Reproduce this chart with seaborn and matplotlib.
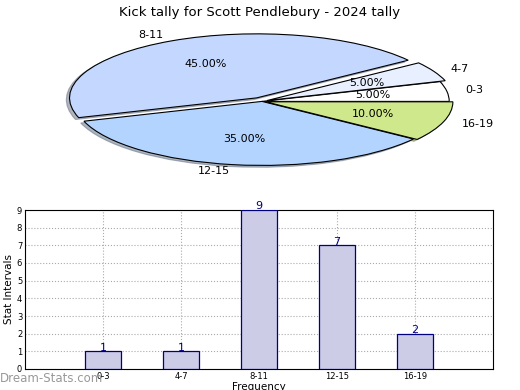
import matplotlib
matplotlib.use("Agg")
import matplotlib.pyplot as plt
import seaborn as sns
import pandas as pd

#### Data ####
categories = ["0-3", "4-7", "8-11", "12-15", "16-19"]
counts = [1, 1, 9, 7, 2]
pie_colors = ["#ffffff", "#e8f0ff", "#c4d8ff", "#b3d4ff", "#d0e88c"]
pie_explode = [0.0, 0.03, 0.06, 0.0, 0.02]

title = "Kick tally for Scott Pendlebury - 2024 tally"

sns.set_theme(style="white")
plt.rcParams["font.family"] = ["DejaVu Sans"]
plt.rcParams["text.color"] = "black"
plt.rcParams["axes.labelcolor"] = "black"
plt.rcParams["xtick.color"] = "black"
plt.rcParams["ytick.color"] = "black"

fig = plt.figure(figsize=(5.2, 3.9), dpi=100)
fig.text(0.5, 0.985, title, ha="center", va="top", fontsize=9.5)

# Pie (squashed ellipse -> aspect auto)
ax_pie = fig.add_axes([49.7 / 520, 216 / 390, 424.6 / 520, 145.2 / 390])
wedges, texts, autotexts = ax_pie.pie(
    counts, labels=categories, colors=pie_colors, explode=pie_explode,
    autopct="%.2f%%", startangle=0, counterclock=True, radius=0.97,
    shadow={"ox": -0.012, "oy": -0.02, "shade": 0.5},
    wedgeprops={"edgecolor": "black", "linewidth": 0.8},
    textprops={"fontsize": 8},
)
ax_pie.set_aspect("auto")
ax_pie.set_xlim(-1.1, 1.1)
ax_pie.set_ylim(-1.1, 1.1)
ax_pie.axis("off")

# Bars
ax = fig.add_axes([25 / 520, 21 / 390, 468 / 520, 159 / 390])
df = pd.DataFrame({"cat": categories, "n": counts})
sns.barplot(data=df, x="cat", y="n", color="#ccccE6", edgecolor="#000080",
            linewidth=0.9, width=0.46, saturation=1, ax=ax, zorder=3)
for c in ax.containers:
    ax.bar_label(c, labels=[str(v) for v in counts], color="#000080",
                 fontsize=8, padding=-1)

ax.set_xlim(-1, 5)
ax.set_ylim(0, 9)
ax.set_yticks(range(0, 10))
ax.tick_params(axis="both", labelsize=6, direction="in", length=2, pad=2)
ax.grid(True, linestyle=":", color="#aaaaaa", linewidth=0.8, zorder=0)
ax.set_axisbelow(True)
for s in ax.spines.values():
    s.set_color("black")
    s.set_linewidth(0.8)
ax.set_xlabel("Frequency", fontsize=7.5, labelpad=1)
ax.set_ylabel("Stat Intervals", fontsize=7.5, labelpad=2)

fig.text(0.0, 0.012, "Dream-Stats.com", color="#999999", fontsize=8.5,
         ha="left", va="bottom")

plt.savefig("out.png", dpi=100)
plt.close(fig)
